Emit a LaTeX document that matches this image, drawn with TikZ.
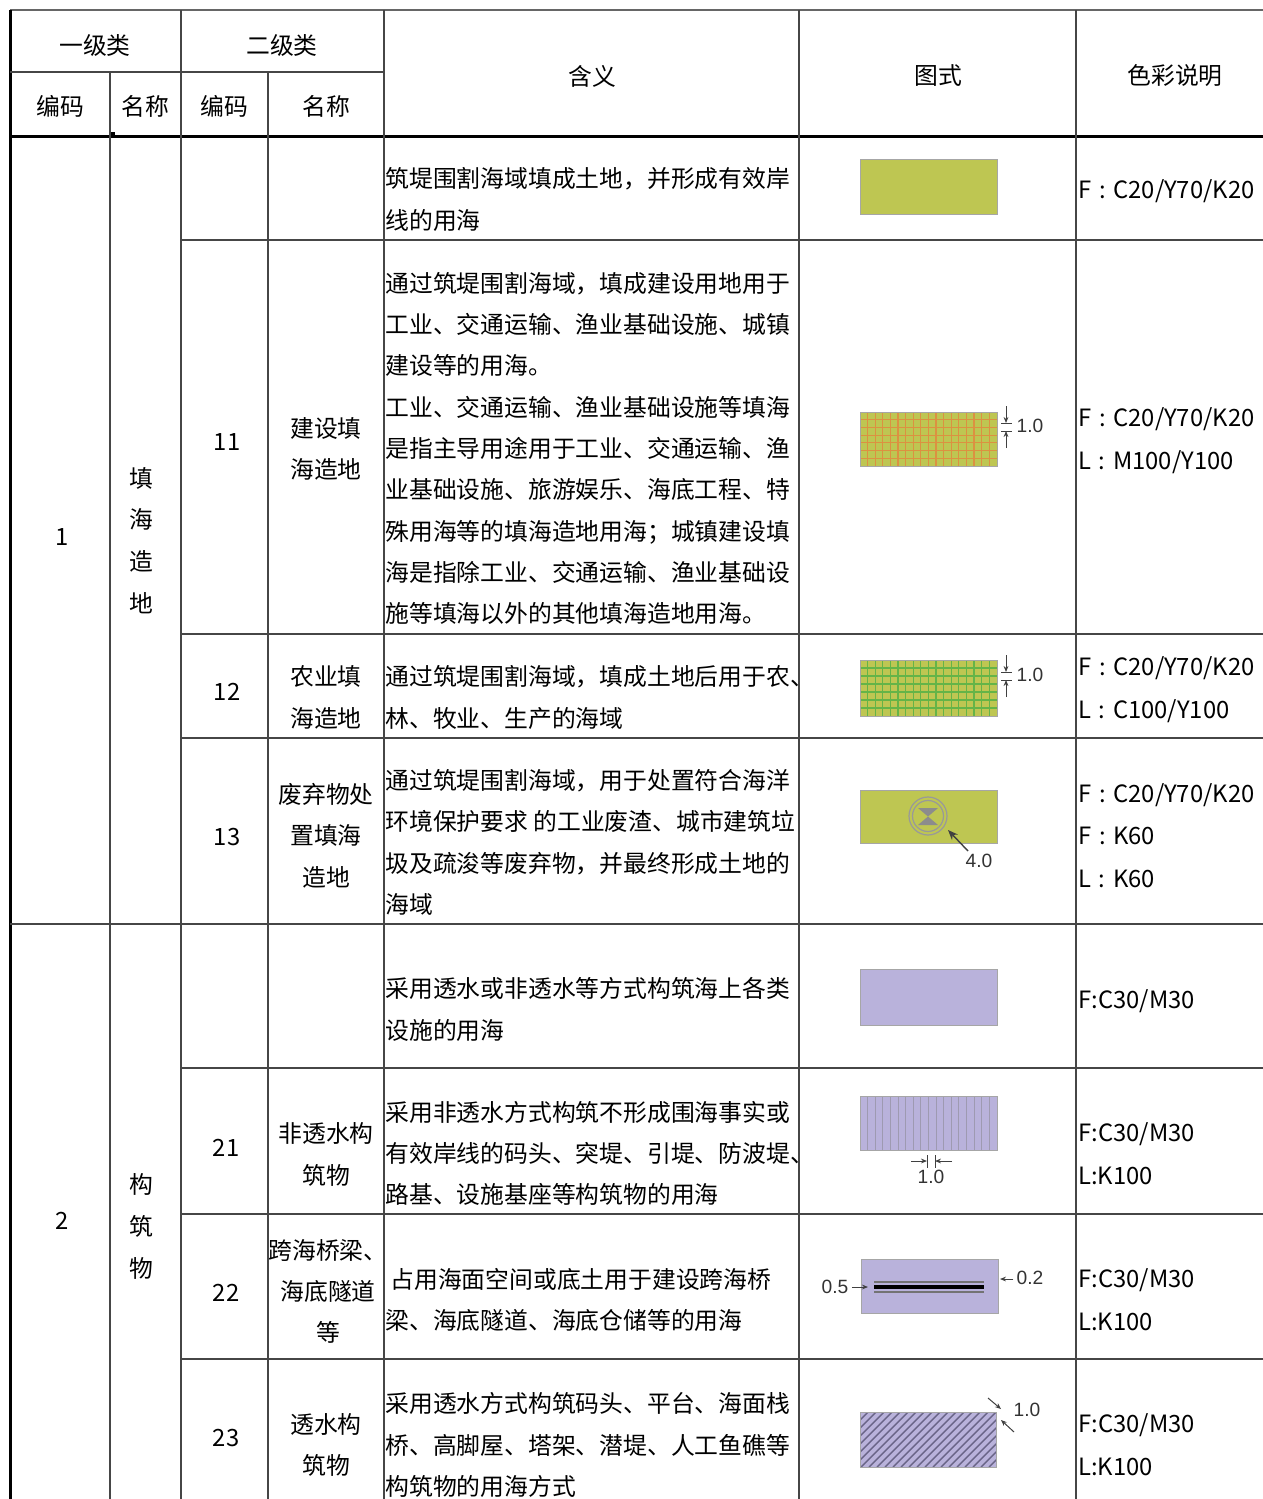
\documentclass[tikz,border=0pt]{standalone}
\usepackage{fontspec}
\setmainfont{Noto Sans CJK SC}
\newfontfamily\dimfont{Liberation Sans}
\usetikzlibrary{arrows.meta}
\definecolor{fillolive}{RGB}{190,198,82}
\definecolor{filllilac}{RGB}{185,178,219}
\definecolor{gridorange}{RGB}{220,145,65}
\definecolor{gridgreen}{RGB}{100,180,72}
\definecolor{hatchgray}{RGB}{105,100,135}
\definecolor{rulegray}{RGB}{70,70,70}
\newcommand{\fcolon}{\hspace{0.32em}:\hspace{0.32em}}
\begin{document}
\begin{tikzpicture}[x=0.5pt, y=-0.5pt, >={Stealth[length=3pt,width=2.4pt]},
	font=\fontsize{11.9pt}{20.65pt}\selectfont]
	\tikzstyle{rule}=[draw=rulegray, line width=0.8pt]
	\tikzstyle{heavy}=[draw=black, line width=1.5pt]
	\tikzstyle{cell}=[inner sep=0pt, align=center]
	\tikzstyle{desc}=[inner sep=0pt, anchor=west, align=left]
	\tikzstyle{colour}=[inner sep=0pt, anchor=west, align=left, font=\fontsize{11.9pt}{21.4pt}\selectfont]
	\tikzstyle{swatch}=[draw=black!35, line width=0.5pt]
	\tikzstyle{dimline}=[draw=black!75, line width=0.5pt]
	\tikzstyle{dimtext}=[inner sep=0pt, text=black!80, font=\dimfont\fontsize{9.6pt}{11pt}\selectfont]
	\useasboundingbox (0,0) rectangle (1263,1499);

	% table rules
	\draw [draw=black!60, line width=1pt] (10,10) -- (1263,10);
	\draw [heavy] (10,136) -- (1263,136);
	\draw [heavy] (10,10) -- (10,1499);
	\fill [black] (110,132) rectangle (115,136);
	\draw [rule] (10,72) -- (384,72);
	\draw [rule] (110,72) -- (110,1499);
	\draw [rule] (268,72) -- (268,1499);
	\foreach \x in {181,384,799,1076}
		\draw [rule] (\x,10) -- (\x,1499);
	\foreach \y in {240,634,738,1068,1214,1359}
		\draw [rule] (181,\y) -- (1263,\y);
	\draw [rule] (10,924) -- (1263,924);

	% header
	\draw node[cell] at (95, 45) (lv1) {一级类};
	\draw node[cell] at (282, 45) (lv2) {二级类};
	\draw node[cell] at (60, 106) (code1h) {编码};
	\draw node[cell] at (145, 106) (name1h) {名称};
	\draw node[cell] at (224, 106) (code2h) {编码};
	\draw node[cell] at (326, 106) (name2h) {名称};
	\draw node[cell] at (592, 76) (meanh) {含义};
	\draw node[cell] at (938, 76) (iconh) {图式};
	\draw node[cell] at (1175, 76) (colourh) {色彩说明};

	% first level
	\draw node[cell] at (62, 537) (code1) {1};
	\draw node[cell] at (62, 1221) (code2) {2};
	\draw node[cell, font=\fontsize{11.9pt}{20.85pt}\selectfont] at (141, 540.5) (name1) {填\\海\\造\\地};
	\draw node[cell, font=\fontsize{11.9pt}{20.85pt}\selectfont] at (141, 1226.5) (name2) {构\\筑\\物};

	% second level
	\draw node[cell] at (227, 442) (code11) {11};
	\draw node[cell] at (227, 692) (code12) {12};
	\draw node[cell] at (227, 837) (code13) {13};
	\draw node[cell] at (226, 1148) (code21) {21};
	\draw node[cell] at (226, 1293) (code22) {22};
	\draw node[cell] at (226, 1438) (code23) {23};
	\draw node[cell] at (326, 449) (name11) {建设填\\海造地};
	\draw node[cell] at (326, 697.5) (name12) {农业填\\海造地};
	\draw node[cell] at (326, 835.5) (name13) {废弃物处\\置填海\\造地};
	\draw node[cell] at (326, 1154.5) (name21) {非透水构\\筑物};
	\draw node[cell] at (328, 1291.5) (name22) {跨海桥梁、\\海底隧道\\等};
	\draw node[cell] at (326, 1445) (name23) {透水构\\筑物};

	% meaning
	\draw node[desc] at (385, 199.5) (d1) {筑堤围割海域填成土地，并形成有效岸\\线的用海};
	\draw node[desc] at (385, 448.5) (d11) {通过筑堤围割海域，填成建设用地用于\\工业、交通运输、渔业基础设施、城镇\\建设等的用海。\\工业、交通运输、渔业基础设施等填海\\是指主导用途用于工业、交通运输、渔\\业基础设施、旅游娱乐、海底工程、特\\殊用海等的填海造地用海；城镇建设填\\海是指除工业、交通运输、渔业基础设\\施等填海以外的其他填海造地用海。};
	\draw node[desc] at (385, 697.5) (d12) {通过筑堤围割海域，填成土地后用于农、\\林、牧业、生产的海域};
	\draw node[desc] at (385, 842.5) (d13) {通过筑堤围割海域，用于处置符合海洋\\环境保护要求 的工业废渣、城市建筑垃\\圾及疏浚等废弃物，并最终形成土地的\\海域};
	\draw node[desc] at (385, 1009.5) (d2) {采用透水或非透水等方式构筑海上各类\\设施的用海};
	\draw node[desc] at (385, 1153.5) (d21) {采用非透水方式构筑不形成围海事实或\\有效岸线的码头、突堤、引堤、防波堤、\\路基、设施基座等构筑物的用海};
	\draw node[desc] at (385, 1300) (d22) {\hspace*{2.5pt}占用海面空间或底土用于建设跨海桥\\梁、海底隧道、海底仓储等的用海};
	\draw node[desc] at (385, 1445) (d23) {采用透水方式构筑码头、平台、海面栈\\桥、高脚屋、塔架、潜堤、人工鱼礁等\\构筑物的用海方式};

	% colour notes
	\draw node[colour] at (1078, 191) (c1) {F\fcolon C20/Y70/K20};
	\draw node[colour] at (1078, 441) (c11) {F\fcolon C20/Y70/K20\\L\fcolon M100/Y100};
	\draw node[colour] at (1078, 690) (c12) {F\fcolon C20/Y70/K20\\L\fcolon C100/Y100};
	\draw node[colour] at (1078, 835.5) (c13) {F\fcolon C20/Y70/K20\\F\fcolon K60\\L\fcolon K60};
	\draw node[colour] at (1078, 1001) (c2) {F:C30/M30};
	\draw node[colour] at (1078, 1154) (c21) {F:C30/M30\\L:K100};
	\draw node[colour] at (1078, 1299.5) (c22) {F:C30/M30\\L:K100};
	\draw node[colour] at (1078, 1445) (c23) {F:C30/M30\\L:K100};

	% symbols
	\draw [swatch, fill=fillolive] (860,159) rectangle (997,214);

	\fill [fillolive] (860,412) rectangle (997,466);
	\foreach \k in {1,...,17}
		\draw [gridorange, line width=0.6pt] ({860+\k*7.6},412) -- ({860+\k*7.6},466);
	\foreach \k in {1,...,6}
		\draw [gridorange, line width=0.6pt] (860,{412+\k*7.7}) -- (997,{412+\k*7.7});
	\draw [swatch] (860,412) rectangle (997,466);
	\draw [dimline, ->] (1006,406) -- (1006,423);
	\draw [dimline, ->] (1006,448) -- (1006,431);
	\draw [dimline] (1001,423) -- (1012,423) (1001,431) -- (1012,431);
	\draw node[dimtext] at (1030, 426) (dim11) {1.0};

	\fill [fillolive] (860,660) rectangle (997,716);
	\foreach \k in {1,...,17}
		\draw [gridgreen, line width=0.6pt] ({860+\k*7.6},660) -- ({860+\k*7.6},716);
	\foreach \k in {1,...,6}
		\draw [gridgreen, line width=0.6pt] (860,{660+\k*8}) -- (997,{660+\k*8});
	\draw [swatch] (860,660) rectangle (997,716);
	\draw [dimline, ->] (1006,655) -- (1006,672);
	\draw [dimline, ->] (1006,697) -- (1006,680);
	\draw [dimline] (1001,672) -- (1012,672) (1001,680) -- (1012,680);
	\draw node[dimtext] at (1030, 675) (dim12) {1.0};

	\draw [swatch, fill=fillolive] (860,790) rectangle (997,843);
	\draw [black!40, line width=0.6pt] (928,816) circle [radius=19] circle [radius=15.5];
	\fill [black!45] (918,808) -- (938,808) -- (928,816.5) -- cycle;
	\fill [black!45] (918,825) -- (938,825) -- (928,816.5) -- cycle;
	\draw node[dimtext] at (979, 861) (dim13) {4.0};
	\draw [dimline, line width=0.7pt, -{Stealth[length=5pt,width=4pt]}] (968,851) -- (948,830);

	\draw [swatch, fill=filllilac] (860,969) rectangle (997,1025);

	\fill [filllilac] (860,1096) rectangle (997,1150);
	\foreach \k in {1,...,17}
		\draw [hatchgray!65, line width=0.5pt] ({860+\k*7.6},1096) -- ({860+\k*7.6},1150);
	\draw [swatch] (860,1096) rectangle (997,1150);
	\draw [dimline, ->] (911,1161) -- (927,1161);
	\draw [dimline, ->] (952,1161) -- (935,1161);
	\draw [dimline] (927,1155) -- (927,1168) (935,1155) -- (935,1168);
	\draw node[dimtext] at (931, 1177) (dim21) {1.0};

	\draw [swatch, fill=filllilac] (861,1259) rectangle (998,1313);
	\draw [black!55, line width=0.6pt] (874,1282) -- (984,1282);
	\draw [black, line width=1.6pt] (874,1287) -- (984,1287);
	\draw [black!55, line width=0.6pt] (874,1292) -- (984,1292);
	\draw node[dimtext] at (835, 1287) (dim22a) {0.5};
	\draw node[dimtext] at (1030, 1278) (dim22b) {0.2};
	\draw [dimline, ->] (dim22a.east) ++(3,0) -- (868,1287);
	\draw [dimline, ->] (dim22b.west) ++(-3,1) -- (1000,1279);

	\fill [filllilac] (860,1412) rectangle (996,1467);
	\begin{scope}
		\clip (860,1412) rectangle (996,1467);
		\foreach \k in {0,...,24}
			\draw [hatchgray, line width=0.7pt] ({805+\k*8},1467) -- ++(56,-56);
	\end{scope}
	\draw [swatch] (860,1412) rectangle (996,1467);
	\draw [dimline, ->] (988,1398) -- (1001,1409);
	\draw [dimline, ->] (1014,1432) -- (1001,1420);
	\draw node[dimtext] at (1027, 1410) (dim23) {1.0};
\end{tikzpicture}
\end{document}
